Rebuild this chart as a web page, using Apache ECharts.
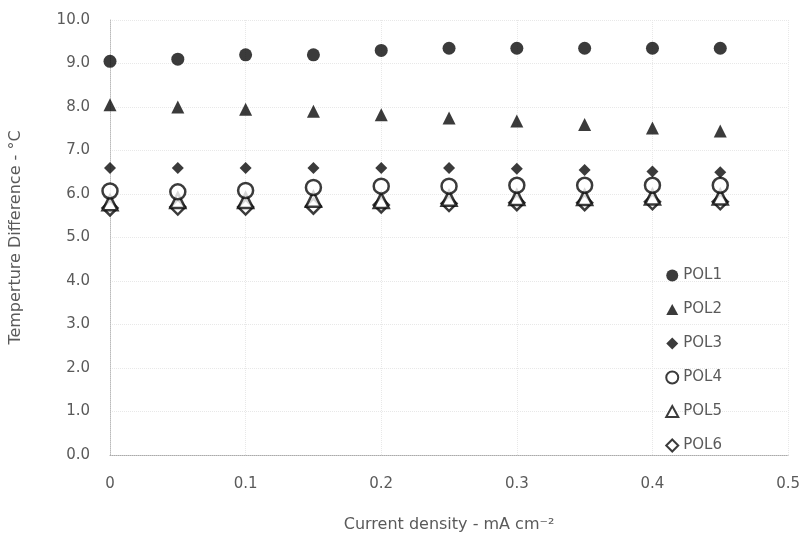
<!DOCTYPE html>
<html><head><meta charset="utf-8">
<script src="https://cdn.jsdelivr.net/npm/echarts@6/dist/echarts.min.js"></script>
<style>html,body{margin:0;padding:0;background:#fff}#c{width:803px;height:546px}</style>
</head><body><div id="c"></div>
<script>
const xValues = [0, 0.05, 0.1, 0.15, 0.2, 0.25, 0.3, 0.35, 0.4, 0.45];
const seriesNames = ['POL1', 'POL2', 'POL3', 'POL4', 'POL5', 'POL6'];
const pol1 = [9.05, 9.1, 9.2, 9.2, 9.3, 9.35, 9.35, 9.35, 9.35, 9.35];
const pol2 = [8.05, 8.0, 7.95, 7.9, 7.82, 7.75, 7.68, 7.6, 7.52, 7.45];
const pol3 = [6.6, 6.6, 6.6, 6.6, 6.6, 6.6, 6.58, 6.55, 6.52, 6.5];
const pol4 = [6.07, 6.05, 6.08, 6.15, 6.18, 6.18, 6.2, 6.2, 6.2, 6.2];
const pol5 = [5.8, 5.85, 5.85, 5.88, 5.85, 5.9, 5.92, 5.92, 5.93, 5.93];
const pol6 = [5.68, 5.7, 5.7, 5.72, 5.75, 5.78, 5.8, 5.8, 5.82, 5.82];
const yTicks = ['0.0','1.0','2.0','3.0','4.0','5.0','6.0','7.0','8.0','9.0','10.0'];

const FONT = 'DejaVu Sans';
const TXT = '#5a5a5a';
const sqDiamond = 'path://M0,-1L1,0L0,1L-1,0Z';
const tri = 'path://M0,-1L1,0.8L-1,0.8Z';
const styles = [
  {symbol:'circle', size:13, filled:true},
  {symbol:tri, size:13, filled:true},
  {symbol:sqDiamond, size:12, filled:true},
  {symbol:'circle', size:15, filled:false},
  {symbol:tri, size:15, filled:false},
  {symbol:sqDiamond, size:15, filled:false}
];
const dataSets = [pol1, pol2, pol3, pol4, pol5, pol6];

const series = dataSets.map((vals, i) => {
  const st = styles[i];
  return {
    name: seriesNames[i],
    type: 'scatter',
    symbol: st.symbol,
    symbolSize: st.size,
    data: xValues.map((x, j) => [x, vals[j]]),
    itemStyle: st.filled ? {color:'#0a0a0a'} : {color:'#ffffff', borderColor:'#0a0a0a', borderWidth:2.5},
    z: 10 - i
  };
});

const chart = echarts.init(document.getElementById('c'));
chart.setOption({
  animation:false,
  textStyle:{fontFamily:FONT},
  grid:{left:108, right:8, top:20, bottom:91, containLabel:false},
  xAxis:{
    type:'value', min:0, max:0.5, interval:0.1,
    name:'Current density - mA cm\u207B\u00B2', nameLocation:'middle', nameGap:62,
    nameTextStyle:{color:TXT, fontSize:16, fontFamily:FONT},
    axisLine:{show:true, lineStyle:{color:'#aaa', type:'dotted', width:1}},
    axisTick:{show:false},
    axisLabel:{color:TXT, fontSize:15, margin:22, fontFamily:FONT, formatter: v => (v===0?'0':String(Math.round(v*10)/10))},
    splitLine:{show:true, lineStyle:{color:'#e8e8e8', type:'dotted'}}
  },
  yAxis:{
    type:'value', min:0, max:10, interval:1,
    name:'Temperture Difference - \u00B0C', nameLocation:'middle', nameGap:86,
    nameTextStyle:{color:TXT, fontSize:16, fontFamily:FONT},
    axisLine:{show:true, lineStyle:{color:'#bbb', type:'dotted'}},
    axisTick:{show:false},
    axisLabel:{color:TXT, fontSize:15, margin:20, fontFamily:FONT, formatter: v => yTicks[Math.round(v)]},
    splitLine:{show:true, lineStyle:{color:'#e8e8e8', type:'dotted'}}
  },
  legend:{
    orient:'vertical', right:76, top:263,
    itemGap:19, itemWidth:12, itemHeight:12,
    textStyle:{color:TXT, fontSize:15, fontFamily:FONT},
    data: seriesNames
  },
  series: series
});
</script></body></html>
